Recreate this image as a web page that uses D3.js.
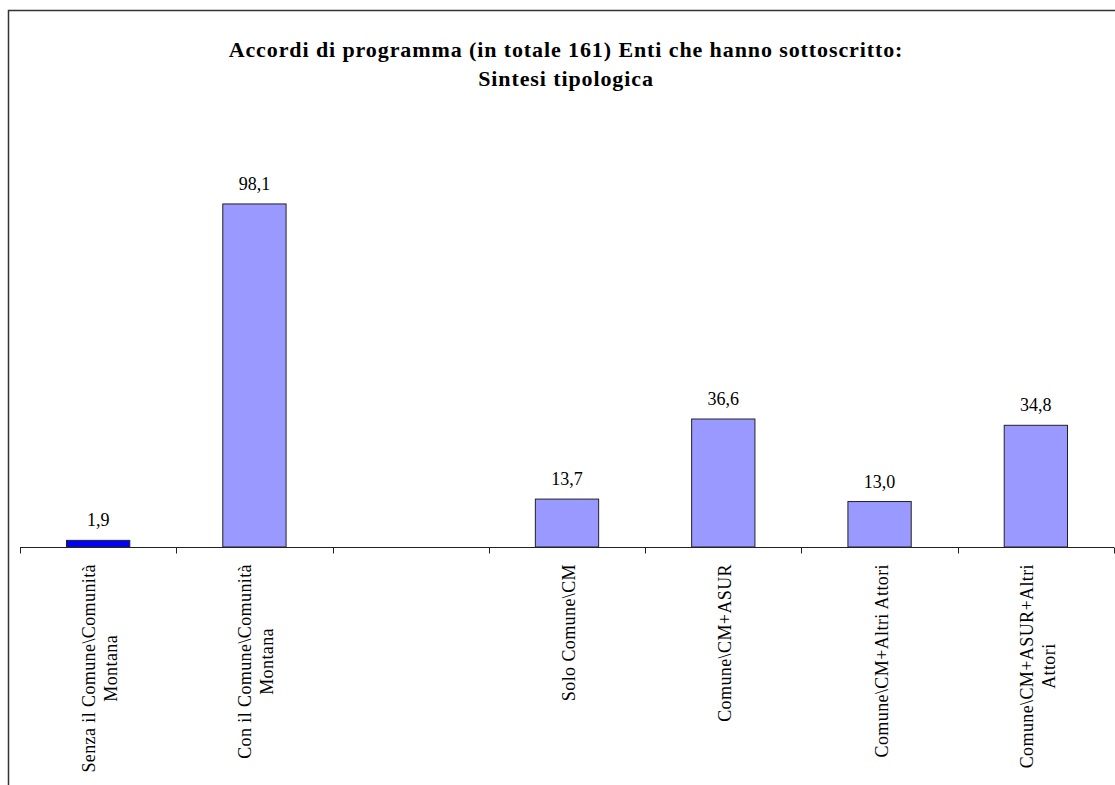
<!DOCTYPE html>
<html><head><meta charset="utf-8">
<script src="https://cdn.jsdelivr.net/npm/d3@7"></script>
<style>body{margin:0;background:#fff}svg{display:block}</style>
</head><body>
<script>
const categories = [
  ["Senza il Comune\\Comunità", "Montana"],
  ["Con il Comune\\Comunità", "Montana"],
  [""],
  ["Solo Comune\\CM"],
  ["Comune\\CM+ASUR"],
  ["Comune\\CM+Altri Attori"],
  ["Comune\\CM+ASUR+Altri", "Attori"]
];
const values = [1.9, 98.1, null, 13.7, 36.6, 13.0, 34.8];
const barColors = ["#0000FF", "#9999FF", "#9999FF", "#9999FF", "#9999FF", "#9999FF", "#9999FF"];
const titleLines = ["Accordi di programma (in totale 161) Enti che hanno sottoscritto:", "Sintesi tipologica"];

const W = 1115, H = 785;
const FONT = '"Liberation Serif", "Times New Roman", serif';
const svg = d3.select("body").append("svg").attr("width", W).attr("height", H);

svg.append("rect").attr("x", 8.5).attr("y", 10.5).attr("width", 1200).attr("height", 900)
  .attr("fill", "none").attr("stroke", "#333").attr("stroke-width", 1.5);

const x = d3.scaleBand().domain(d3.range(categories.length)).range([20, 1114]).paddingInner(0).paddingOuter(0);
const y = d3.scaleLinear().domain([0, 110]).range([547, 547 - 110 * 3.497]);

const g = svg.append("g");
const bw = x.bandwidth() * 0.405;
const data = values.map((v, i) => ({v, i})).filter(d => d.v != null);

g.selectAll("rect.bar").data(data)
  .join("rect").attr("class", "bar")
  .attr("x", d => x(d.i) + x.bandwidth() / 2 - bw / 2)
  .attr("width", bw)
  .attr("y", d => y(d.v))
  .attr("height", d => y(0) - y(d.v))
  .attr("fill", d => barColors[d.i])
  .attr("stroke", "#222").attr("stroke-width", 1);

g.selectAll("text.val").data(data)
  .join("text").attr("class", "val")
  .attr("x", d => x(d.i) + x.bandwidth() / 2)
  .attr("y", d => y(d.v) - 14)
  .attr("text-anchor", "middle")
  .style("font-family", FONT).style("font-size", "18px")
  .text(d => d3.format(".1f")(d.v).replace(".", ","));

// x axis
const axis = d3.axisBottom(x).tickSize(0).tickFormat("");
const ax = svg.append("g").attr("transform", "translate(0,547.5)").call(axis);
ax.select(".domain").attr("stroke", "#222").attr("d", "M20,0H1114");
const ticks = d3.range(categories.length + 1).map(i => i === categories.length ? x.range()[1] : x(i));
ax.selectAll("line.tk").data(ticks).join("line").attr("class", "tk")
  .attr("x1", d => Math.round(d) + 0.5).attr("x2", d => Math.round(d) + 0.5)
  .attr("y1", 0).attr("y2", 6).attr("stroke", "#222");

// category labels rotated
const lineH = 22;
categories.forEach((lines, i) => {
  const cx = x(i) + x.bandwidth() / 2 + 2;
  const n = lines.length;
  const lg = svg.append("g").attr("transform", `translate(${cx},564) rotate(-90)`);
  const texts = lines.map((l, k) => lg.append("text")
    .style("font-family", FONT).style("font-size", "18px").style("letter-spacing", "0.4px")
    .attr("text-anchor", "middle").attr("dominant-baseline", "central")
    .attr("y", (k - (n - 1) / 2) * lineH)
    .text(l));
  const maxW = d3.max(texts, t => t.node().getComputedTextLength());
  texts.forEach(t => t.attr("x", -maxW / 2));
});

svg.selectAll("text.title").data(titleLines).join("text").attr("class", "title")
  .attr("x", 566).attr("y", (d, i) => 57 + i * 29)
  .attr("text-anchor", "middle")
  .style("font-family", FONT).style("letter-spacing", "0.9px")
  .style("font-weight", "bold").style("font-size", "22px").text(d => d);
</script>
</body></html>
